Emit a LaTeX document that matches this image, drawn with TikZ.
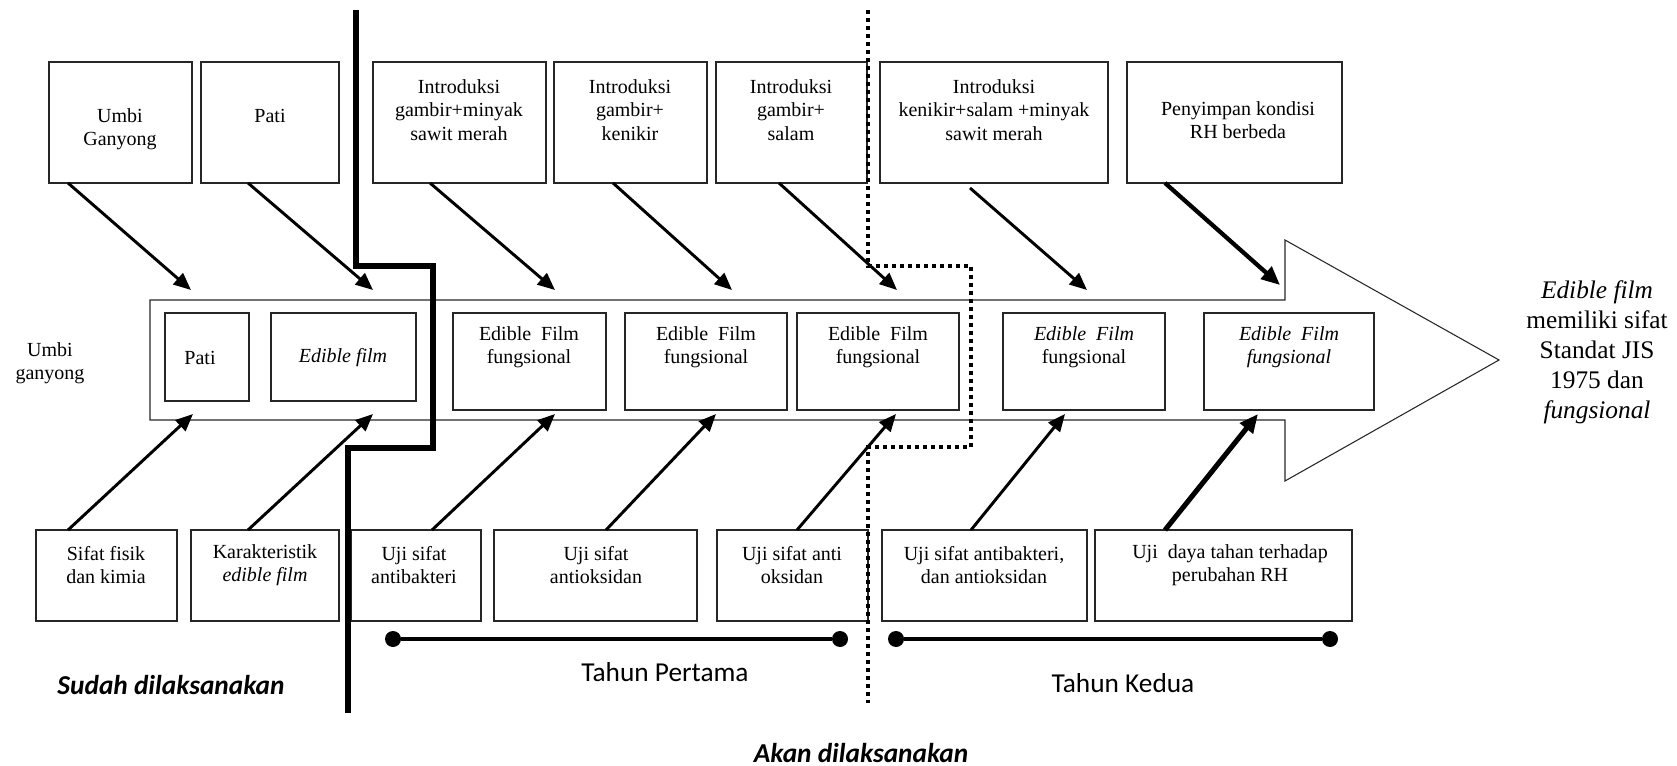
\documentclass[tikz,border=0pt]{standalone}
\usepackage{fontspec}
\setmainfont{Liberation Serif}
\newfontfamily\carlito{Carlito}
\usetikzlibrary{arrows.meta,calc}
\newcommand\pbox[5]{\node[pbx, minimum width={(#4-#2)*0.75pt}, minimum height={(#5-#3)*0.75pt}] (#1) at ({(#2+#4)/2},{(#3+#5)/2}) {};}
\begin{document}
\begin{tikzpicture}[x=0.75pt,y=-0.75pt,
  pbx/.style={draw=black!85, line width=1.1pt, inner sep=0pt, outer sep=0pt},
  tx/.style={align=center, inner sep=0pt, font=\fontsize{15}{17.6}\selectfont},
  bigtx/.style={align=center, inner sep=0pt, font=\fontsize{19}{22.5}\selectfont},
  sanstx/.style={inner sep=0pt, font=\carlito\fontsize{20.5}{24}\selectfont},
  sansbf/.style={inner sep=0pt, font=\carlito\bfseries\itshape\fontsize{20.5}{24}\selectfont},
  arr/.style={line width=2.2pt, -{Triangle[length=13pt,width=11pt]}},
  arrthick/.style={line width=3.2pt, -{Triangle[length=14pt,width=12pt]}},
  bigarrow/.style={draw=black!85, line width=0.8pt},
  soliddiv/.style={line width=3.8pt},
  dotdiv/.style={line width=3.6pt, dash pattern=on 3pt off 3pt},
  yearline/.style={line width=3pt},
  yeardot/.style={circle, fill=black, inner sep=0pt, minimum size=12pt},
]
\useasboundingbox (0,0) rectangle (1677,766);

% big arrow
\draw[bigarrow] (150,300) -- (1285,300) -- (1285,240) -- (1499,360) -- (1285,481) -- (1285,420) -- (150,420) -- cycle;

% top boxes
\pbox{t1}{49}{62}{192}{183}
\pbox{t2}{201}{62}{339}{183}
\pbox{t3}{373}{62}{546}{183}
\pbox{t4}{554}{62}{707}{183}
\pbox{t5}{716}{62}{867}{183}
\pbox{t6}{880}{62}{1108}{183}
\pbox{t7}{1127}{62}{1342}{183}
\node[tx] (t1t) at (120,129) {Umbi\\Ganyong};
\node[tx] (t2t) at (270,116) {Pati};
\node[tx] (t3t) at (459,110) {Introduksi\\gambir+minyak\\sawit merah};
\node[tx] (t4t) at (630,110) {Introduksi\\gambir+\\kenikir};
\node[tx] (t5t) at (791,110) {Introduksi\\gambir+\\salam};
\node[tx] (t6t) at (994,110) {Introduksi\\kenikir+salam +minyak\\sawit merah};
\node[tx] (t7t) at (1238,120) {Penyimpan kondisi\\RH berbeda};

% inner boxes
\pbox{i1}{165}{313}{249}{401}
\pbox{i2}{271}{313}{416}{401}
\pbox{e1}{453}{313}{606}{410}
\pbox{e2}{625}{313}{787}{410}
\pbox{e3}{797}{313}{959}{410}
\pbox{e4}{1003}{313}{1165}{410}
\pbox{e5}{1204}{313}{1374}{410}
\node[tx] (i1t) at (200,358) {Pati};
\node[tx] (i2t) at (343,358) {\textit{Edible film}};
\node[tx] (e1t) at (529,347) {Edible\ \ Film\\fungsional};
\node[tx] (e2t) at (706,347) {Edible\ \ Film\\fungsional};
\node[tx] (e3t) at (878,347) {Edible\ \ Film\\fungsional};
\node[tx] (e4t) at (1084,347) {\textit{Edible\ \ Film}\\fungsional};
\node[tx] (e5t) at (1289,347) {\textit{Edible\ \ Film}\\\textit{fungsional}};
\node[tx] (ug) at (50,363) {Umbi\\ganyong};

% bottom boxes
\pbox{b1}{36}{530}{177}{621}
\pbox{b2}{191}{530}{339}{621}
\pbox{b3}{351}{530}{481}{621}
\pbox{b4}{494}{530}{697}{621}
\pbox{b5}{717}{530}{868}{621}
\pbox{b6}{882}{530}{1087}{621}
\pbox{b7}{1095}{530}{1352}{621}
\node[tx] (b1t) at (106,565) {Sifat fisik\\dan kimia};
\node[tx] (b2t) at (265,565) {Karakteristik\\\textit{edible film}};
\node[tx] (b3t) at (414,565) {Uji sifat\\antibakteri};
\node[tx] (b4t) at (596,565) {Uji sifat\\antioksidan};
\node[tx] (b5t) at (792,565) {Uji sifat anti\\oksidan};
\node[tx] (b6t) at (984,565) {Uji sifat antibakteri,\\dan antioksidan};
\node[tx] (b7t) at (1230,565) {Uji\ \ daya tahan terhadap\\perubahan RH};

% result text
\node[bigtx] (res) at (1597,352) {\textit{Edible film}\\memiliki sifat\\Standat JIS\\1975 dan\\\textit{fungsional}};

% arrow target coordinates
\coordinate (h1) at (191,290);
\coordinate (h2) at (373,290);
\coordinate (h3) at (555,290);
\coordinate (h4) at (732,290);
\coordinate (h5) at (897,290);
\coordinate (h6) at (1087,290);
\coordinate (h7) at (1280,285);
\coordinate (g1) at (193,414);
\coordinate (g2) at (373,414);
\coordinate (g3) at (555,414);
\coordinate (g4) at (716,414);
\coordinate (g5) at (896,414);
\coordinate (g6) at (1065,414);
\coordinate (g7) at (1258,414);

% top arrows
\draw[arr] ($(t1.south west)+(19,0)$) -- (h1);
\draw[arr] ($(t2.south west)+(47,0)$) -- (h2);
\draw[arr] ($(t3.south west)+(57,0)$) -- (h3);
\draw[arr] ($(t4.south west)+(59,0)$) -- (h4);
\draw[arr] ($(t5.south west)+(63,0)$) -- (h5);
\draw[arr] ($(t6.south west)+(90,5)$) -- (h6);
\draw[arrthick] ($(t7.south west)+(38,0)$) -- (h7);

% bottom arrows
\draw[arr] ($(b1.north west)+(32,0)$) -- (g1);
\draw[arr] ($(b2.north west)+(57,0)$) -- (g2);
\draw[arr] ($(b3.north west)+(81,0)$) -- (g3);
\draw[arr] ($(b4.north west)+(112,0)$) -- (g4);
\draw[arr] ($(b5.north west)+(80,0)$) -- (g5);
\draw[arr] ($(b6.north west)+(89,0)$) -- (g6);
\draw[arrthick, line width=3.8pt] ($(b7.north west)+(70,0)$) -- (g7);

% dividers
\draw[soliddiv] (356,10) -- (356,266) -- (433,266) -- (433,448) -- (348,448) -- (348,713);
\draw[dotdiv] (868,10) -- (868,266) -- (971,266) -- (971,447) -- (868,447) -- (868,703);

% year lines
\node[yeardot] (d1) at (393,639) {};
\node[yeardot] (d2) at (840,639) {};
\node[yeardot] (d3) at (896,639) {};
\node[yeardot] (d4) at (1330,639) {};
\draw[yearline] (d1) -- (d2);
\draw[yearline] (d3) -- (d4);
\node[sanstx] (y1) at (665,672) {Tahun Pertama};
\node[sanstx] (y2) at (1123,683) {Tahun Kedua};
\node[sansbf] (sd) at (171,685) {Sudah dilaksanakan};
\node[sansbf] (ad) at (861,753) {Akan dilaksanakan};
\end{tikzpicture}
\end{document}
